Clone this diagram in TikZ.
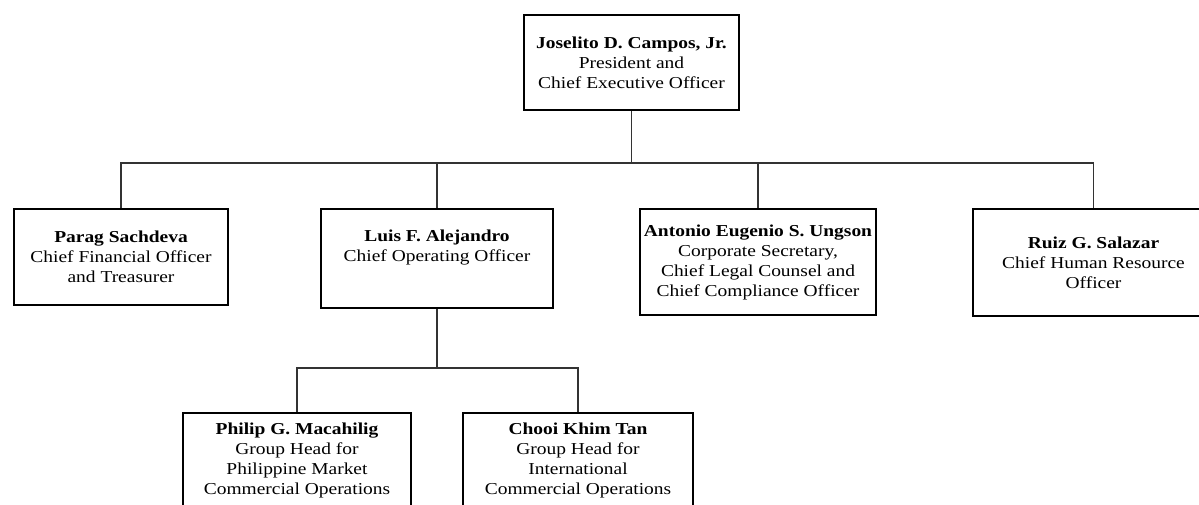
\documentclass[tikz,border=0pt]{standalone}
\usepackage{fontspec}
\setmainfont{Liberation Serif}[FakeStretch=1.165]
\begin{document}
\begin{tikzpicture}[x=1pt,y=-1pt,
  box/.style={draw=black,line width=2.6pt,rectangle,inner sep=0pt,align=center,
    font=\fontsize{16.7}{20}\selectfont},
  conn/.style={draw=black!80,line width=1.4pt}]
\useasboundingbox (0,0) rectangle (1199,504);
\clip (0,0) rectangle (1199,504);
\fill[white] (0,0) rectangle (1199,504);

\node[box,minimum width=215pt,minimum height=95pt] (ceo) at (631.5,62.5)
  {\textbf{Joselito D. Campos, Jr.}\\President and\\Chief Executive Officer};
\node[box,minimum width=214pt,minimum height=96pt] (parag) at (121,257)
  {\textbf{Parag Sachdeva}\\Chief Financial Officer\\and Treasurer};
\node[box,minimum width=232pt,minimum height=99pt] (luis) at (437,258.5)
  {\textbf{Luis F. Alejandro}\\Chief Operating Officer\\\strut};
\node[box,minimum width=236pt,minimum height=106pt] (antonio) at (758,262)
  {\textbf{Antonio Eugenio S. Ungson}\\Corporate Secretary,\\Chief Legal Counsel and\\Chief Compliance Officer};
\node[box,minimum width=241pt,minimum height=107pt] (ruiz) at (1093.5,262.5)
  {\textbf{Ruiz G. Salazar}\\Chief Human Resource\\Officer};
\node[box,minimum width=228pt,minimum height=94pt] (philip) at (297,460)
  {\textbf{Philip G. Macahilig}\\Group Head for\\Philippine Market\\Commercial Operations};
\node[box,minimum width=230pt,minimum height=94pt] (chooi) at (578,460)
  {\textbf{Chooi Khim Tan}\\Group Head for\\International\\Commercial Operations};

\coordinate (bus) at (632,163);
\coordinate (sub) at (435,368);
\draw[conn] (ceo.south) -- (ceo.south |- bus);
\draw[conn] (parag.north) |- (ruiz.north |- bus) -- (ruiz.north);
\draw[conn] (luis.north) -- (luis.north |- bus);
\draw[conn] (antonio.north) -- (antonio.north |- bus);
\draw[conn] (luis.south) -- (luis.south |- sub);
\draw[conn] (philip.north) |- (chooi.north |- sub) -- (chooi.north);
\end{tikzpicture}
\end{document}
